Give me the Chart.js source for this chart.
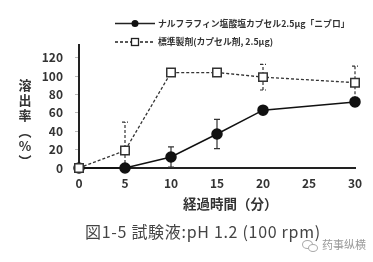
<!DOCTYPE html>
<html>
<head>
<meta charset="utf-8">
<script src="https://cdn.jsdelivr.net/npm/chart.js@4.4.1/dist/chart.umd.min.js"></script>
<style>
  body { margin: 0; background: #fff; }
  #wrap { position: relative; width: 373px; height: 262px; font-family: "Noto Sans CJK JP", sans-serif; color: #333; }
  #wrap canvas { position: absolute; left: 0; top: 0; }
  .ytitle { position: absolute; left: 17px; top: 77px; width: 16px; display: flex; flex-direction: column;
    align-items: center; font-size: 13px; font-weight: bold; line-height: 15.2px; }
  .xtitle { position: absolute; left: 183px; top: 193px; font-size: 13.5px; font-weight: bold; }
  .caption { position: absolute; left: 85px; top: 219px; font-size: 16px; letter-spacing: 0.7px; color: #444; }
  .mark { position: absolute; left: 322px; top: 236px; font-size: 11px; color: #999; }
  .icon { position: absolute; border: 1px solid #aaa; border-radius: 50%; }
</style>
</head>
<body>
<div id="wrap">
  <canvas id="c" width="373" height="262"></canvas>
  <div class="ytitle"><span>溶</span><span>出</span><span>率</span><span>︵</span><span>%</span><span>︶</span></div>
  <div class="xtitle">経過時間（分）</div>
  <div class="caption">図1-5 試験液:pH 1.2 (100 rpm)</div>
  <div class="icon" style="left:302px;top:240px;width:9px;height:7px"></div>
  <div class="icon" style="left:308px;top:244px;width:8px;height:6px;background:#fff"></div>
  <div class="mark">药事纵横</div>
</div>
<script>
// 経過時間（分）
const times = [0, 5, 10, 15, 20, 30];
const yTicks = [0, 20, 40, 60, 80, 100, 120];

// ナルフラフィン塩酸塩カプセル2.5μg「ニプロ」
const testLabel = 'ナルフラフィン塩酸塩カプセル2.5μg「ニプロ」';
const testMean = [0, 0, 12, 37, 63, 72];
const testSD   = [0, 0, 11, 16, 4, 5];

// 標準製剤
const refLabel = '標準製剤(カプセル剤, 2.5μg)';
const refMean = [0, 19, 104, 104, 99, 93];
const refSD   = [0, 31, 0, 2, 14, 18];

const pts = (ys) => ys.map((y, i) => ({ x: times[i], y: y }));

const errorBars = {
  id: 'errorBars',
  beforeDatasetsDraw(chart) {
    const ctx = chart.ctx;
    const xs = chart.scales.x, ys = chart.scales.y;
    const sets = [[testMean, testSD, []], [refMean, refSD, [3, 2]]];
    sets.forEach(([m, sd, dash]) => {
      ctx.save();
      ctx.strokeStyle = '#333';
      ctx.lineWidth = 1.2;
      ctx.setLineDash(dash);
      m.forEach((v, i) => {
        if (!sd[i]) return;
        const px = xs.getPixelForValue(times[i]);
        const hi = ys.getPixelForValue(v + sd[i]);
        const lo = ys.getPixelForValue(Math.max(0, v - sd[i]));
        ctx.beginPath();
        ctx.moveTo(px, lo); ctx.lineTo(px, hi);
        ctx.moveTo(px - 3, hi); ctx.lineTo(px + 3, hi);
        ctx.moveTo(px - 3, lo); ctx.lineTo(px + 3, lo);
        ctx.stroke();
      });
      ctx.restore();
    });
  }
};

const legendBox = {
  id: 'legendBox',
  afterDraw(chart) {
    const ctx = chart.ctx;
    ctx.save();
    ctx.strokeStyle = '#222';
    ctx.lineWidth = 1.3;
    // row 1
    ctx.beginPath(); ctx.moveTo(115, 23.5); ctx.lineTo(155, 23.5); ctx.stroke();
    ctx.fillStyle = '#111';
    ctx.beginPath(); ctx.arc(135, 23.5, 3.5, 0, Math.PI * 2); ctx.fill();
    // row 2
    ctx.setLineDash([3, 2]);
    ctx.beginPath(); ctx.moveTo(115, 42); ctx.lineTo(155, 42); ctx.stroke();
    ctx.setLineDash([]);
    ctx.fillStyle = '#fff';
    ctx.fillRect(131.5, 38.5, 7, 7); ctx.strokeRect(131.5, 38.5, 7, 7);
    ctx.fillStyle = '#333';
    ctx.font = 'bold 8.8px "Noto Sans CJK JP"';
    ctx.textBaseline = 'middle';
    ctx.fillText(testLabel, 158, 23.5, 192);
    ctx.fillText(refLabel, 158, 42, 139);
    ctx.restore();
  }
};

new Chart(document.getElementById('c'), {
  type: 'line',
  data: {
    datasets: [
      {
        label: refLabel, data: pts(refMean), borderColor: '#333', borderWidth: 1.3,
        borderDash: [3, 2], pointStyle: 'rect', pointRadius: 6, pointBackgroundColor: '#fff',
        pointBorderColor: '#333', pointBorderWidth: 1.5, clip: false
      },
      {
        label: testLabel, data: pts(testMean), borderColor: '#111', borderWidth: 1.5,
        pointStyle: 'circle', pointRadius: 5, pointBackgroundColor: '#111',
        pointBorderColor: '#111', clip: false
      }
    ]
  },
  options: {
    responsive: false,
    animation: false,
    layout: { padding: { top: 45, right: 18, left: 0, bottom: 0 } },
    plugins: { legend: { display: false }, tooltip: { enabled: false } },
    scales: {
      x: {
        type: 'linear', min: 0, max: 30,
        afterBuildTicks: (s) => { s.ticks = [0, 5, 10, 15, 20, 25, 30].map(v => ({ value: v })); },
        afterFit: (s) => { s.height = 94; },
        border: { color: '#222', width: 2 },
        grid: { drawOnChartArea: false, drawTicks: false },
        ticks: { padding: 8, color: '#333', font: { family: 'Noto Sans CJK JP', size: 12, weight: 'bold' } }
      },
      y: {
        min: 0, max: 134,
        afterBuildTicks: (s) => { s.ticks = yTicks.map(v => ({ value: v })); },
        afterFit: (s) => { s.width = 79; },
        border: { color: '#222', width: 2 },
        grid: { drawOnChartArea: false, drawTicks: true, tickLength: 4, color: '#bbb' },
        ticks: { padding: 12, color: '#333', font: { family: 'Noto Sans CJK JP', size: 12, weight: 'bold' } }
      }
    }
  },
  plugins: [errorBars, legendBox]
});
</script>
</body>
</html>
